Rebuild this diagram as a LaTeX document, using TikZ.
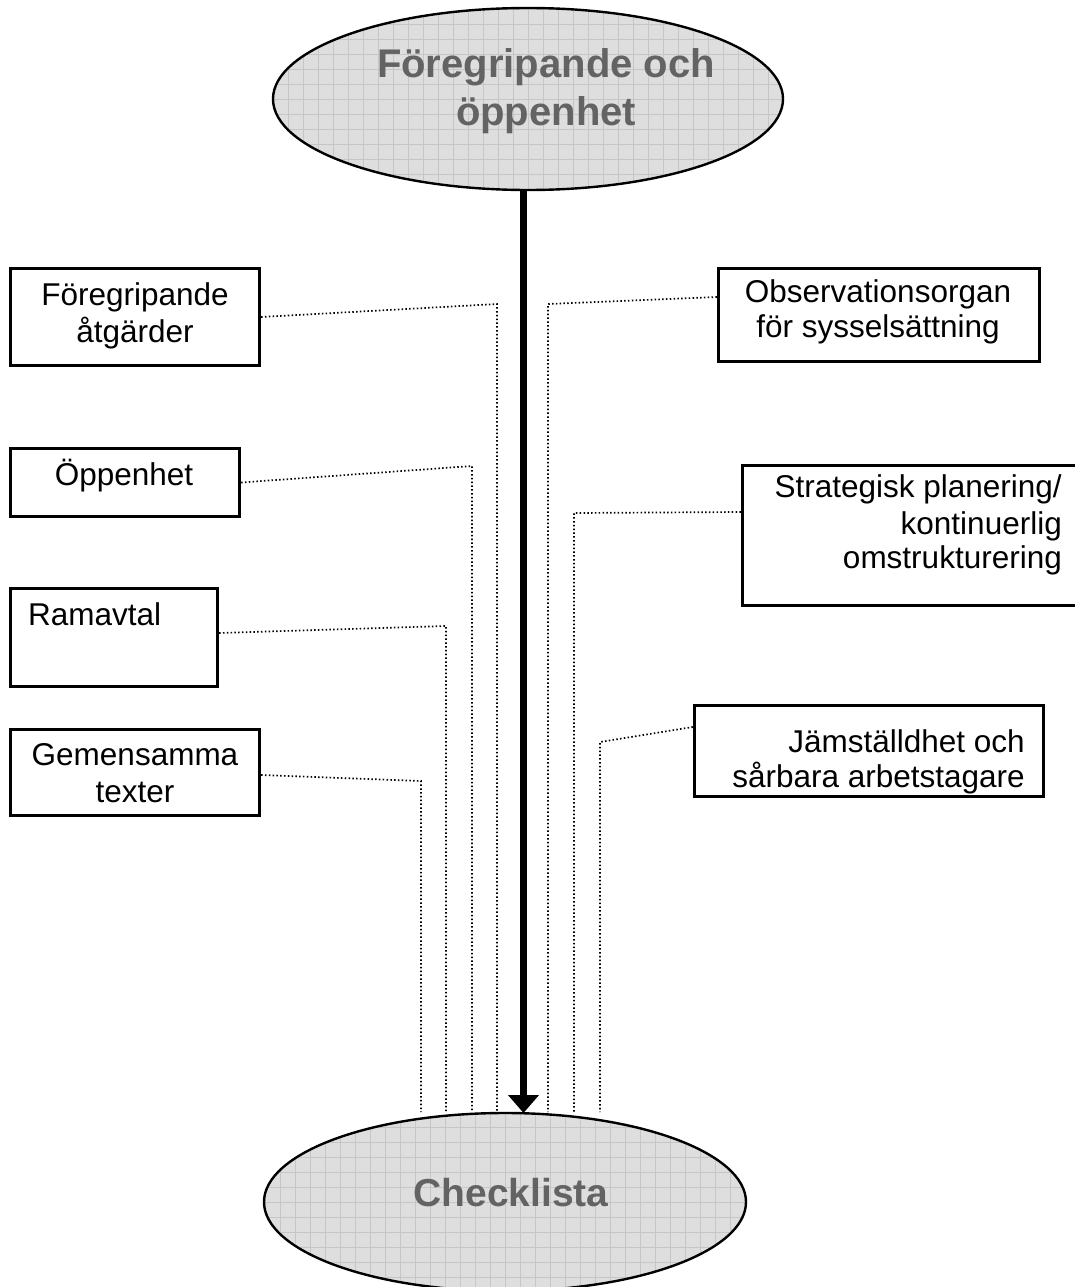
\documentclass[tikz,border=0pt]{standalone}
\usepackage{fontspec}
\setmainfont{Liberation Sans}
\usetikzlibrary{arrows.meta,shapes.geometric}
\definecolor{ovalfill}{HTML}{DEDEDE}
\definecolor{ovalgrid}{HTML}{C6C6C6}
\definecolor{ovaltext}{HTML}{636363}
\begin{document}
\begin{tikzpicture}[x=1pt,y=-1pt,
  box/.style={draw, line width=3.4pt, inner sep=0pt},
  lbl/.style={anchor=base, inner sep=0pt, font=\fontsize{31.5}{37}\selectfont},
  oval/.style={ellipse, draw, line width=2.4pt, fill=ovalfill, inner sep=0pt,
    path picture={\draw[ovalgrid, line width=0.6pt]
      (path picture bounding box.south west) grid[step=15pt]
      (path picture bounding box.north east);}},
  ovallbl/.style={anchor=base, inner sep=0pt, text=ovaltext,
    font=\fontsize{40}{47}\bfseries\selectfont},
  link/.style={line width=1.7pt, dash pattern=on 1.5pt off 2.3pt},
  mainarrow/.style={line width=7pt, -{Triangle[length=18pt,width=30pt]}}]

\useasboundingbox (0,0) rectangle (1075,1287);

% ovals
\node[oval, minimum width=510pt, minimum height=182pt] (top) at (528,99) {};
\node[ovallbl] (top1) at (546,78) {Föregripande och};
\node[ovallbl] (top2) at (546,126) {öppenhet};

\node[oval, minimum width=482pt, minimum height=178pt] (bot) at (505,1202) {};
\node[ovallbl, font=\fontsize{39}{47}\bfseries\selectfont] (botl) at (511,1206) {Checklista};

% left boxes
\node[box, minimum width=249pt, minimum height=97pt] (b1) at (135,317) {};
\node[lbl] (b1a) at (135,305) {Föregripande};
\node[lbl] (b1b) at (135,342) {åtgärder};

\node[box, minimum width=229pt, minimum height=68pt] (b2) at (125,482.5) {};
\node[lbl] (b2a) at (124,485) {Öppenhet};

\node[box, minimum width=207pt, minimum height=98pt] (b3) at (114,637.5) {};
\node[lbl, anchor=base west] (b3a) at (28,625) {Ramavtal};

\node[box, minimum width=249pt, minimum height=86pt] (b4) at (135,772.5) {};
\node[lbl] (b4a) at (135,765) {Gemensamma};
\node[lbl] (b4b) at (135,802) {texter};

% right boxes
\node[box, minimum width=321pt, minimum height=93pt] (r1) at (879,315) {};
\node[lbl] (r1a) at (878,302) {Observationsorgan};
\node[lbl] (r1b) at (878,337) {för sysselsättning};

\node[box, minimum width=334pt, minimum height=140pt] (r2) at (909.5,535.5) {};
\node[lbl, anchor=base east] (r2a) at (1062,497) {Strategisk planering/};
\node[lbl, anchor=base east] (r2b) at (1062,534) {kontinuerlig};
\node[lbl, anchor=base east] (r2c) at (1062,568) {omstrukturering};

\node[box, minimum width=349pt, minimum height=91pt] (r3) at (869,751) {};
\node[lbl, anchor=base east] (r3a) at (1025,752) {Jämställdhet och};
\node[lbl, anchor=base east] (r3b) at (1025,787) {sårbara arbetstagare};

% elbows and feet of the dotted links
\coordinate (k1) at (497,304);  \coordinate (f1) at (497,1112);
\coordinate (k2) at (472,466);  \coordinate (f2) at (472,1112);
\coordinate (k3) at (446,626);  \coordinate (f3) at (446,1112);
\coordinate (k4) at (421,781);  \coordinate (f4) at (421,1112);
\coordinate (k5) at (548,304);  \coordinate (f5) at (548,1112);
\coordinate (k6) at (574,513);  \coordinate (f6) at (574,1112);
\coordinate (k7) at (600,742);  \coordinate (f7) at (600,1112);

\draw[link] (b1.east) -- (k1) -- (f1);
\draw[link] (b2.east) -- (k2) -- (f2);
\draw[link] ([yshift=4.5pt]b3.east) -- (k3) -- (f3);
\draw[link] ([yshift=-2.5pt]b4.east) -- (k4) -- (f4);
\draw[link] ([yshift=18pt]r1.west) -- (k5) -- (f5);
\draw[link] ([yshift=23.5pt]r2.west) -- (k6) -- (f6);
\draw[link] ([yshift=24pt]r3.west) -- (k7) -- (f7);

% main arrow
\coordinate (as) at (523.5,189);
\coordinate (ae) at (523.5,1113);
\draw[mainarrow] (as) -- (ae);
\end{tikzpicture}
\end{document}
